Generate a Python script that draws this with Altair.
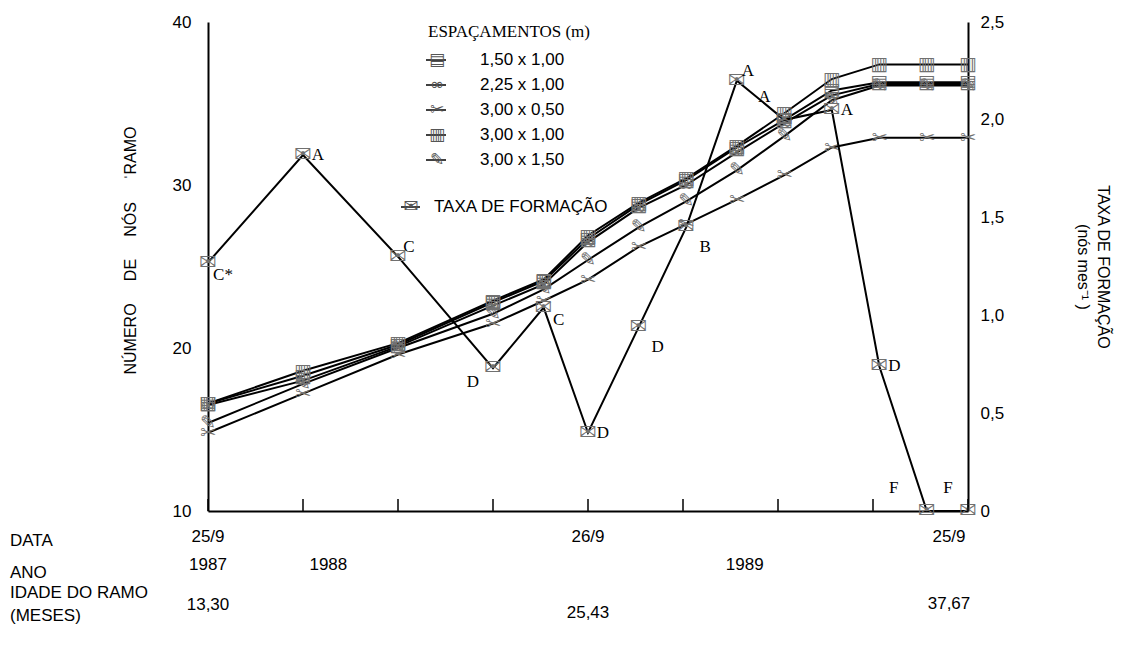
import altair as alt
import pandas as pd

# ---------------- data ----------------
months = [0, 3, 6, 9, 10.6, 12, 13.6, 15.1, 16.7, 18.2, 19.7, 21.2, 22.7, 24]

VS = "\ufe0e"
series_names = ["1,50 x 1,00", "2,25 x 1,00", "3,00 x 0,50", "3,00 x 1,00", "3,00 x 1,50"]
series_glyphs = ["▤", "∞", "✂" + VS, "▥", "✎" + VS]
esp_150x100 = [16.6, 18.3, 20.2, 22.8, 24.1, 26.7, 28.8, 30.3, 32.3, 34.0, 35.8, 36.3, 36.3, 36.3]
esp_225x100 = [16.5, 18.0, 20.1, 22.6, 23.9, 26.5, 28.6, 30.0, 32.0, 33.8, 35.5, 36.2, 36.2, 36.2]
esp_300x050 = [14.8, 17.2, 19.6, 21.5, 22.9, 24.2, 26.2, 27.6, 29.1, 30.6, 32.3, 32.9, 32.9, 32.9]
esp_300x100 = [16.6, 18.6, 20.3, 22.9, 24.2, 26.9, 28.9, 30.4, 32.4, 34.4, 36.5, 37.4, 37.4, 37.4]
esp_300x150 = [15.4, 17.8, 20.0, 22.1, 23.6, 25.4, 27.4, 29.0, 30.9, 33.0, 35.2, 36.1, 36.1, 36.1]
series_values = [esp_150x100, esp_225x100, esp_300x050, esp_300x100, esp_300x150]

taxa = [1.27, 1.82, 1.30, 0.73, 1.04, 0.40, 0.94, 1.45, 2.20, 2.00, 2.05, 0.74, 0.0, 0.0]
taxa_letters = ["C*", "A", "C", "D", "C", "D", "D", "B", "A", "A", "A", "D", "F", "F"]
taxa_place = ["rb", "r", "ra", "lb", "rb", "r", "rbb", "rbb", "ra", "al", "r", "r", "all", "al"]
envelope = "✉" + VS

left_ticks = [10, 20, 30, 40]
right_ticks = [0, 0.5, 1.0, 1.5, 2.0, 2.5]
x_ticks = [0, 3, 6, 9, 12, 15, 18, 21, 24]

date_labels = ["25/9", "26/9", "25/9"]
date_pos = [0, 12, 23.4]
year_labels = ["1987", "1988", "1989"]
year_pos = [0, 3.8, 16.95]
age_labels = ["13,30", "25,43", "37,67"]
age_pos = [0, 12, 23.4]
row_headers = ["DATA", "ANO", "IDADE DO RAMO", "(MESES)"]

W, H = 760, 489
SANS = "Liberation Sans"
SERIF = "Liberation Serif"
GLYPH = "DejaVu Sans"
NB = "\u00a0" * 5

# ---------------- tables ----------------
rows = []
for name, glyph, vals in zip(series_names, series_glyphs, series_values):
    for m, v in zip(months, vals):
        rows.append({"series": name, "glyph": glyph, "month": m, "value": v})
growth = pd.DataFrame(rows)

taxa_df = pd.DataFrame({"month": months, "taxa": taxa, "letter": taxa_letters,
                        "place": taxa_place, "glyph": envelope})

xscale = alt.Scale(domain=[0, 24], nice=False, zero=False)
x_axis = alt.Axis(labels=False, ticks=False, grid=False, domainColor="black",
                  domainWidth=2, title=None)

left_axis = alt.Axis(values=left_ticks, ticks=False, grid=False, domainColor="black",
                     domainWidth=2, labelFontSize=17, labelPadding=17,
                     title="NÚMERO" + NB + "DE" + NB + "NÓS" + NB + "ˈRAMO", titleFontSize=16,
                     titleFontWeight="normal", titlePadding=34, titleFont=SANS, titleY=228,
                     labelFont=SANS, labelColor="black", titleColor="black")

right_axis = alt.Axis(orient="right", values=right_ticks, ticks=False, grid=False,
                      domainColor="black", domainWidth=2, labelFontSize=17,
                      labelPadding=12, labelFont=SANS, labelColor="black",
                      labelExpr="datum.value == 0 ? '0' : replace(format(datum.value, '.1f'), '.', ',')",
                      title=["TAXA DE FORMAÇÃO", "(nós mes⁻¹ )"], titleFontSize=16,
                      titleFontWeight="normal", titlePadding=71, titleFont=SANS,
                      titleColor="black", titleAngle=90, titleLineHeight=20)

growth_lines = alt.Chart(growth).mark_line(color="black", strokeWidth=2).encode(
    x=alt.X("month:Q", scale=xscale, axis=x_axis),
    y=alt.Y("value:Q", scale=alt.Scale(domain=[10, 40], nice=False, zero=False), axis=left_axis),
    detail="series:N",
)
growth_marks = alt.Chart(growth).mark_text(color="#707070", fontSize=19, font=GLYPH,
                                           align="center", baseline="middle").encode(
    x=alt.X("month:Q", scale=xscale),
    y=alt.Y("value:Q", scale=alt.Scale(domain=[10, 40], nice=False, zero=False)),
    text="glyph:N",
)
left_layer = alt.layer(growth_lines, growth_marks)

tscale = alt.Scale(domain=[0, 2.5], nice=False, zero=False)
taxa_line = alt.Chart(taxa_df).mark_line(color="black", strokeWidth=2).encode(
    x=alt.X("month:Q", scale=xscale),
    y=alt.Y("taxa:Q", scale=tscale, axis=right_axis),
)
taxa_marks = alt.Chart(taxa_df).mark_text(color="#707070", fontSize=21, font=GLYPH,
                                          align="center", baseline="middle").encode(
    x=alt.X("month:Q", scale=xscale),
    y=alt.Y("taxa:Q", scale=tscale),
    text="glyph:N",
)
offsets = {"rb": (15, 12), "rbb": (19, 20), "r": (15, 0), "ra": (11, -10),
           "lb": (-20, 14), "al": (-20, -23), "all": (-33, -23)}
label_layers = []
for key, (dx, dy) in offsets.items():
    label_layers.append(
        alt.Chart(taxa_df).transform_filter(alt.datum.place == key).mark_text(
            font=SERIF, fontSize=17, color="black", dx=dx, dy=dy,
            align="center", baseline="middle").encode(
            x=alt.X("month:Q", scale=xscale),
            y=alt.Y("taxa:Q", scale=tscale),
            text="letter:N",
        )
    )
right_layer = alt.layer(taxa_line, taxa_marks, *label_layers)

# inward ticks on the bottom axis
tick_layer = alt.Chart(pd.DataFrame({"month": x_ticks})).mark_rule(
    color="black", strokeWidth=1.5).encode(
    x=alt.X("month:Q", scale=xscale),
    y=alt.value(H), y2=alt.value(H - 12),
)

# bottom annotation rows
def row_text(labels, pos, ypix):
    df = pd.DataFrame({"label": labels, "month": pos})
    return alt.Chart(df).mark_text(font=SANS, fontSize=17, color="black",
                                   align="center", baseline="middle").encode(
        x=alt.X("month:Q", scale=xscale), y=alt.value(ypix), text="label:N")

date_layer = row_text(date_labels, date_pos, 537 - 22)
year_layer = row_text(year_labels, year_pos, 565 - 22)
age_df = pd.DataFrame({"label": age_labels, "month": age_pos, "yy": [605 - 22, 613 - 22, 604 - 22]})
age_layer = alt.Chart(age_df).mark_text(font=SANS, fontSize=17, color="black",
                                        align="center", baseline="middle").encode(
    x=alt.X("month:Q", scale=xscale),
    y=alt.Y("yy:Q", scale=None, axis=None), text="label:N")

hdr_df = pd.DataFrame({"label": row_headers, "yy": [541 - 22, 573 - 22, 593 - 22, 616 - 22]})
hdr_layer = alt.Chart(hdr_df).mark_text(font=SANS, fontSize=17, color="black",
                                        align="left", baseline="middle").encode(
    x=alt.value(10 - 208), y=alt.Y("yy:Q", scale=None, axis=None), text="label:N")

# legend
leg_df = pd.DataFrame({"label": series_names, "glyph": series_glyphs,
                       "yy": [38 + 25 * i for i in range(len(series_names))]})
leg_title = alt.Chart(pd.DataFrame({"t": ["ESPAÇAMENTOS (m)"]})).mark_text(
    font=SERIF, fontSize=17, color="black", align="center", baseline="middle").encode(
    x=alt.value(301), y=alt.value(10), text="t:N")
leg_rule = alt.Chart(leg_df).mark_rule(color="black", strokeWidth=1.5).encode(
    x=alt.value(218), x2=alt.value(238), y=alt.Y("yy:Q", scale=None, axis=None))
leg_glyph = alt.Chart(leg_df).mark_text(font=GLYPH, fontSize=17, color="#555555",
                                        align="center", baseline="middle").encode(
    x=alt.value(229), y=alt.Y("yy:Q", scale=None, axis=None), text="glyph:N")
leg_label = alt.Chart(leg_df).mark_text(font=SANS, fontSize=17, color="black",
                                        align="left", baseline="middle").encode(
    x=alt.value(272), y=alt.Y("yy:Q", scale=None, axis=None), text="label:N")

taxa_leg_df = pd.DataFrame({"label": ["TAXA  DE FORMAÇÃO"], "glyph": [envelope], "yy": [185]})
taxa_leg_rule = alt.Chart(taxa_leg_df).mark_rule(color="black", strokeWidth=1.5).encode(
    x=alt.value(193), x2=alt.value(212), y=alt.Y("yy:Q", scale=None, axis=None))
taxa_leg_glyph = alt.Chart(taxa_leg_df).mark_text(font=GLYPH, fontSize=18, color="#555555",
                                                  align="center", baseline="middle").encode(
    x=alt.value(203), y=alt.Y("yy:Q", scale=None, axis=None), text="glyph:N")
taxa_leg_label = alt.Chart(taxa_leg_df).mark_text(font=SANS, fontSize=17, color="black",
                                                  align="left", baseline="middle").encode(
    x=alt.value(226), y=alt.Y("yy:Q", scale=None, axis=None), text="label:N")

chart = alt.layer(
    left_layer, right_layer, tick_layer, date_layer, year_layer, age_layer, hdr_layer,
    leg_title, leg_rule, leg_glyph, leg_label, taxa_leg_rule, taxa_leg_glyph, taxa_leg_label,
).resolve_scale(y="independent").properties(
    width=W, height=H,
    autosize=alt.AutoSizeParams(type="none"),
    padding={"left": 200, "top": 14, "right": 150, "bottom": 120},
    background="white",
).configure_view(stroke=None)

chart.save("out.html", embed_options={"renderer": "svg", "actions": False})
